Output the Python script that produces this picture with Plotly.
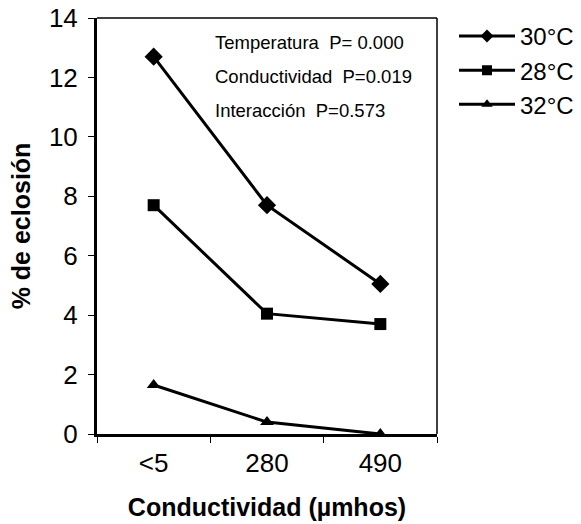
import plotly.graph_objects as go

categories = ["<5", "280", "490"]
series_names = ["30°C", "28°C", "32°C"]
vals_30 = [12.7, 7.7, 5.05]
vals_28 = [7.7, 4.05, 3.7]
vals_32 = [1.65, 0.4, 0.0]
symbols = ["diamond", "square", "triangle-up"]
y_ticks = [0, 2, 4, 6, 8, 10, 12, 14]
stats_text = ["Temperatura&nbsp;&nbsp;P= 0.000", "Conductividad&nbsp;&nbsp;P=0.019",
              "Interacción&nbsp;&nbsp;P=0.573"]

fig = go.Figure()
for name, vals, sym in zip(series_names, [vals_30, vals_28, vals_32], symbols):
    fig.add_trace(go.Scatter(
        x=categories, y=vals, name=name, mode="lines+markers",
        line=dict(color="black", width=3),
        marker=dict(symbol=sym, size=12 if sym != "diamond" else 14, color="black"),
        cliponaxis=False, showlegend=False,
    ))
# legend entries (smaller markers, as in the original legend)
for name, sym in zip(series_names, symbols):
    fig.add_trace(go.Scatter(
        x=[None], y=[None], name=name, mode="lines+markers",
        line=dict(color="black", width=3),
        marker=dict(symbol=sym, size=10, color="black"),
    ))

font = "Liberation Sans, Arial, sans-serif"
fig.update_layout(
    width=581, height=524,
    margin=dict(l=97, r=144, t=18, b=90, autoexpand=False),
    plot_bgcolor="white", paper_bgcolor="white",
    font=dict(family=font, color="black"),
    showlegend=True,
    legend=dict(x=1.05, y=1.01, xanchor="left", yanchor="top",
                font=dict(size=24, family=font), itemwidth=56,
                bgcolor="rgba(0,0,0,0)"),
    xaxis=dict(type="category", range=[-0.5, 2.5], automargin=False,
               showline=True, linecolor="black", linewidth=3,
               ticks="outside", tickson="boundaries", ticklen=6, tickcolor="black",
               tickfont=dict(size=26), ticklabelstandoff=4, showgrid=False, zeroline=False,
               title=dict(text="<b>Conductividad (µmhos)</b>", font=dict(size=25), standoff=22)),
    yaxis=dict(range=[0, 14], tickvals=y_ticks, automargin=False,
               showline=True, linecolor="black", linewidth=3,
               ticks="outside", ticklen=6, tickcolor="black", tickfont=dict(size=26),
               ticklabelstandoff=5, showgrid=False, zeroline=False,
               title=dict(text="<b>% de eclosión</b>", font=dict(size=25), standoff=12)),
)

# thinner top/right frame
fig.add_shape(type="line", xref="paper", yref="paper", x0=0, x1=1, y0=1, y1=1,
              line=dict(color="black", width=1.5))
fig.add_shape(type="line", xref="paper", yref="paper", x0=1, x1=1, y0=0, y1=1,
              line=dict(color="black", width=1.5))

for i, t in enumerate(stats_text):
    fig.add_annotation(x=0.34, y=0.94 - i * 0.081, xref="paper", yref="paper",
                       text=t, showarrow=False, xanchor="left", yanchor="middle",
                       font=dict(size=18.5, family=font))

fig.write_html("out.html", config={"displayModeBar": False},
               post_script="document.body.style.margin='0';")
